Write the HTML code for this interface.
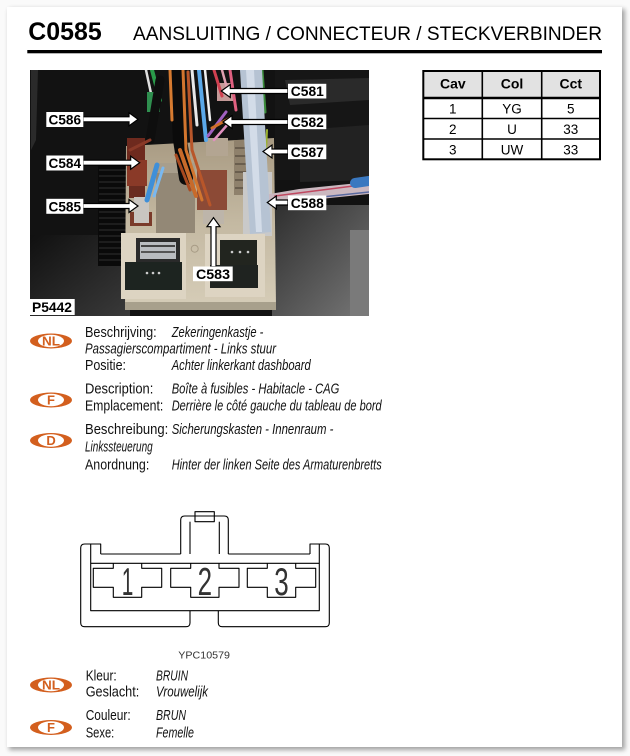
<!DOCTYPE html>
<html>
<head>
<meta charset="utf-8">
<style>
  html,body{margin:0;padding:0;background:#fafafa;}
  body{width:630px;height:756px;position:relative;overflow:hidden;}
  svg{position:absolute;left:0;top:0;}
  text{font-family:"Liberation Sans", Arial, sans-serif;}
</style>
</head>
<body>
<svg width="630" height="756" viewBox="0 0 630 756" xmlns="http://www.w3.org/2000/svg">
  <defs>
    <filter id="sh" x="-5%" y="-5%" width="110%" height="110%"><feGaussianBlur stdDeviation="2.5"/></filter>
    <clipPath id="ph"><rect x="30" y="70" width="339" height="246"/></clipPath>
    <linearGradient id="floor" x1="0" y1="0" x2="1" y2="1">
      <stop offset="0" stop-color="#2e2e2e"/>
      <stop offset="1" stop-color="#767676"/>
    </linearGradient>
    <linearGradient id="ll" x1="0" y1="0" x2="1" y2="1">
      <stop offset="0" stop-color="#101010"/>
      <stop offset="1" stop-color="#3a3a3a"/>
    </linearGradient>
    <linearGradient id="box" x1="0" y1="0" x2="0" y2="1">
      <stop offset="0" stop-color="#a89a82"/>
      <stop offset="0.5" stop-color="#c4b9a2"/>
      <stop offset="1" stop-color="#d6cdb8"/>
    </linearGradient>
  </defs>

  <!-- card -->
  <rect x="9" y="9" width="616" height="741" fill="#000" opacity="0.35" filter="url(#sh)"/>
  <rect x="7" y="7" width="615" height="740" fill="#ffffff"/>

  <!-- header -->
  <text x="28.3" y="40" font-size="25" font-weight="bold" fill="#000" textLength="73.4" lengthAdjust="spacingAndGlyphs">C0585</text>
  <text x="133" y="40" font-size="19.5" fill="#000" textLength="469" lengthAdjust="spacingAndGlyphs">AANSLUITING / CONNECTEUR / STECKVERBINDER</text>
  <rect x="27.3" y="50" width="574.7" height="3.3" fill="#000"/>

  <!-- PHOTO -->
  <g clip-path="url(#ph)">
    <rect x="30" y="70" width="339" height="246" fill="#121212"/>
    <path d="M31 70 L38 70 L36 140 L31 150Z" fill="#2a2a2a"/>
    <rect x="30" y="235" width="100" height="81" fill="url(#ll)"/>
    <rect x="275" y="70" width="94" height="110" fill="#161616"/>
    <path d="M285 80 L369 78 L369 100 L290 105Z" fill="#2a2a2a"/>
    <path d="M300 130 L369 125 L369 180 L300 182Z" fill="#222"/>
    <rect x="272" y="205" width="97" height="111" fill="url(#floor)"/>
    <rect x="350" y="230" width="19" height="86" fill="#7a7a7a"/>
    <!-- ribbed wheel -->
    <rect x="98" y="163" width="30" height="103" fill="#0a0a0a"/>
    <g stroke="#303030" stroke-width="1">
      <line x1="99" y1="170" x2="127" y2="170"/><line x1="99" y1="176" x2="127" y2="176"/>
      <line x1="99" y1="182" x2="127" y2="182"/><line x1="99" y1="188" x2="127" y2="188"/>
      <line x1="99" y1="194" x2="127" y2="194"/><line x1="99" y1="200" x2="127" y2="200"/>
      <line x1="99" y1="206" x2="127" y2="206"/><line x1="99" y1="212" x2="127" y2="212"/>
      <line x1="99" y1="218" x2="127" y2="218"/><line x1="99" y1="224" x2="127" y2="224"/>
      <line x1="99" y1="230" x2="127" y2="230"/><line x1="99" y1="236" x2="127" y2="236"/>
      <line x1="99" y1="242" x2="127" y2="242"/><line x1="99" y1="248" x2="127" y2="248"/>
      <line x1="99" y1="254" x2="127" y2="254"/><line x1="99" y1="260" x2="127" y2="260"/>
    </g>
    <!-- fuse box body -->
    <polygon points="126,146 274,138 276,306 125,309" fill="url(#box)"/>
    <rect x="125" y="302" width="151" height="8" fill="#a8a08c"/>
    <!-- gray block -->
    <rect x="156" y="163" width="39" height="70" fill="#938876"/>
    <rect x="156" y="163" width="39" height="10" fill="#a89e8c"/>
    <!-- left connectors -->
    <rect x="127" y="138" width="18" height="22" fill="#6e2a1e"/>
    <rect x="127" y="160" width="20" height="26" fill="#8a3a28"/>
    <rect x="129" y="186" width="16" height="12" fill="#6a2c20"/>
    <rect x="130" y="212" width="22" height="14" fill="#7a3a2a"/>
    <rect x="134" y="197" width="15" height="26" fill="#c9c5c0"/>
    <!-- right connector column -->
    <rect x="234" y="140" width="16" height="55" fill="#8f816c"/>
    <g stroke="#5e5244" stroke-width="1.5">
      <line x1="235" y1="148" x2="249" y2="148"/><line x1="235" y1="156" x2="249" y2="156"/>
      <line x1="235" y1="164" x2="249" y2="164"/><line x1="235" y1="172" x2="249" y2="172"/>
      <line x1="235" y1="180" x2="249" y2="180"/><line x1="235" y1="188" x2="249" y2="188"/>
    </g>
    <rect x="243" y="172" width="29" height="64" fill="#c9c9c9"/>
    <rect x="206" y="138" width="22" height="18" fill="#b3a592"/>
    <rect x="203" y="207" width="21" height="17" fill="#bdb5aa"/>
    <rect x="197" y="170" width="30" height="40" fill="#8c4a36"/>
    <rect x="217" y="83" width="16" height="18" fill="#c49a98"/>
    <!-- wires -->
    <g fill="none" stroke-linecap="round">
      <path d="M146 70 L152 98" stroke="#e0e0e0" stroke-width="2.5"/>
      <path d="M152 70 L160 100" stroke="#2a9a4a" stroke-width="4"/>
      <rect x="147" y="92" width="13" height="20" fill="#2f8f4f" stroke="none"/>
      <path d="M160 80 L150 140" stroke="#0e0e0e" stroke-width="9"/>
      <path d="M176 70 L180 140 L186 178" stroke="#0b0b0b" stroke-width="14"/>
      <path d="M170 70 L172 120" stroke="#d67a30" stroke-width="3"/>
      <path d="M183 70 L186 150 L202 200" stroke="#d2752e" stroke-width="3"/>
      <path d="M188 72 L192 150 L210 205" stroke="#b8562a" stroke-width="3"/>
      <path d="M180 150 L196 196" stroke="#c86a2a" stroke-width="4"/>
      <path d="M176 155 L190 190" stroke="#a84a20" stroke-width="3"/>
      <path d="M192 70 L197 125" stroke="#e8e8e8" stroke-width="3"/>
      <path d="M199 70 L206 140" stroke="#5aa8e8" stroke-width="4"/>
      <path d="M205 70 L210 120" stroke="#f0f0f0" stroke-width="2.5"/>
      <path d="M157 165 L147 200" stroke="#3f8fd8" stroke-width="5"/>
      <path d="M163 168 L154 196" stroke="#79b8f0" stroke-width="3"/>
      <path d="M130 150 L150 140" stroke="#8a3a28" stroke-width="3"/>
      <path d="M214 70 L222 96" stroke="#d04050" stroke-width="3"/>
      <path d="M222 70 L228 92" stroke="#e0a0b0" stroke-width="2.5"/>
      <path d="M230 70 L236 110" stroke="#e06080" stroke-width="3"/>
      <path d="M226 112 L208 136" stroke="#a060c0" stroke-width="3"/>
      <path d="M230 118 L212 128" stroke="#d0702a" stroke-width="3"/>
      <path d="M228 124 L214 140" stroke="#e090c0" stroke-width="2.5"/>
      <path d="M262 70 L265 112" stroke="#3a8a3a" stroke-width="3"/>
      <path d="M258 100 L250 200" stroke="#88aa44" stroke-width="2"/>
      <path d="M262 120 L257 215" stroke="#d4c828" stroke-width="2"/>
      <path d="M267 130 L263 220" stroke="#9ab030" stroke-width="2"/>
      <path d="M270 200 L300 195 L369 188" stroke="#cbb8c0" stroke-width="12"/>
      <path d="M275 196 L369 184" stroke="#c04860" stroke-width="1.5"/>
      <path d="M275 202 L369 192" stroke="#5a6aa0" stroke-width="1.5"/>
      <path d="M355 183 L369 181" stroke="#3a78c0" stroke-width="10"/>
    </g>
    <polygon points="240,70 262,70 271,232 250,234" fill="#b6c3d3"/>
    <polygon points="246,70 254,70 262,232 256,232" fill="#d3dce8"/>
    <!-- relays -->
    <rect x="121" y="233" width="65" height="66" fill="#ddd4c2"/>
    <rect x="205" y="234" width="60" height="63" fill="#ddd4c2"/>
    <rect x="136" y="238" width="44" height="25" fill="#2a2a2a"/>
    <rect x="140" y="242" width="36" height="17" fill="#b9bcc0"/>
    <rect x="141" y="245" width="34" height="2" fill="#444"/>
    <rect x="141" y="251" width="34" height="2" fill="#555"/>
    <rect x="125" y="262" width="57" height="28" fill="#1d2420"/>
    <circle cx="147" cy="273" r="1.3" fill="#ccc"/><circle cx="153" cy="273" r="1.3" fill="#ccc"/><circle cx="159" cy="273" r="1.3" fill="#ccc"/>
    <rect x="220" y="240" width="37" height="25" fill="#22251f"/>
    <circle cx="232" cy="252" r="1.3" fill="#ccc"/><circle cx="240" cy="252" r="1.3" fill="#ccc"/><circle cx="248" cy="252" r="1.3" fill="#ccc"/>
    <rect x="210" y="265" width="48" height="23" fill="#1f2320"/>
    <circle cx="194.7" cy="248.7" r="3.5" fill="none" stroke="#a89c86" stroke-width="1"/>

    <!-- arrows -->
    <g fill="#fff" stroke="#000" stroke-width="1.2" stroke-linejoin="miter">
      <polygon points="83,116.8 129,116.8 129,112.8 138,119.3 129,125.8 129,121.8 83,121.8"/>
      <polygon points="83,160.2 130.7,160.2 130.7,156.2 139.7,162.7 130.7,169.2 130.7,165.2 83,165.2"/>
      <polygon points="83,203.5 129,203.5 129,199.5 138,206 129,212.5 129,208.5 83,208.5"/>
      <polygon points="288,88.5 230.3,88.5 230.3,84.5 221.3,91 230.3,97.5 230.3,93.5 288,93.5"/>
      <polygon points="288,119.5 232,119.5 232,115.5 223,122 232,128.5 232,124.5 288,124.5"/>
      <polygon points="288,149 272,149 272,145 263,151.5 272,158 272,154 288,154"/>
      <polygon points="288,200 276.3,200 276.3,196 267.3,202.5 276.3,209 276.3,205 288,205"/>
      <polygon points="211,266.7 211,226.7 207,226.7 213.5,217.7 220,226.7 216,226.7 216,266.7"/>
    </g>
    <!-- labels -->
    <g fill="#fff">
      <rect x="46.3" y="112" width="37" height="15"/>
      <rect x="46.3" y="155.5" width="37" height="15"/>
      <rect x="46.3" y="198.8" width="37" height="15"/>
      <rect x="288" y="83.8" width="38.3" height="14.7"/>
      <rect x="288" y="114.5" width="38.3" height="14.7"/>
      <rect x="288" y="144.5" width="38.3" height="14.7"/>
      <rect x="288" y="195.5" width="38.3" height="14.7"/>
      <rect x="193" y="266.5" width="39.7" height="14.7"/>
      <rect x="29.7" y="299" width="45" height="16"/>
    </g>
    <g font-size="14" font-weight="bold" fill="#000">
      <text x="48.5" y="124.5" textLength="32.5" lengthAdjust="spacingAndGlyphs">C586</text>
      <text x="48.5" y="168" textLength="32.5" lengthAdjust="spacingAndGlyphs">C584</text>
      <text x="48.5" y="211.3" textLength="32.5" lengthAdjust="spacingAndGlyphs">C585</text>
      <text x="290.8" y="96.2" textLength="33" lengthAdjust="spacingAndGlyphs">C581</text>
      <text x="290.8" y="126.9" textLength="33" lengthAdjust="spacingAndGlyphs">C582</text>
      <text x="290.8" y="156.9" textLength="33" lengthAdjust="spacingAndGlyphs">C587</text>
      <text x="290.8" y="207.9" textLength="33" lengthAdjust="spacingAndGlyphs">C588</text>
      <text x="196" y="278.9" textLength="34" lengthAdjust="spacingAndGlyphs">C583</text>
      <text x="32" y="312" textLength="40" lengthAdjust="spacingAndGlyphs">P5442</text>
    </g>
  </g>

  <!-- TABLE -->
  <rect x="423.3" y="71" width="176.7" height="27" fill="#e2e2e2"/>
  <g stroke="#000" fill="none">
    <rect x="423.3" y="71" width="176.7" height="88.3" stroke-width="2"/>
    <line x1="423.3" y1="98" x2="600" y2="98" stroke-width="2.6"/>
    <line x1="423.3" y1="118.5" x2="600" y2="118.5" stroke-width="1.6"/>
    <line x1="423.3" y1="139" x2="600" y2="139" stroke-width="1.6"/>
    <line x1="482.3" y1="71" x2="482.3" y2="159.3" stroke-width="1.6"/>
    <line x1="541.7" y1="71" x2="541.7" y2="159.3" stroke-width="1.6"/>
  </g>
  <g font-size="14" font-weight="bold" text-anchor="middle" fill="#000">
    <text x="452.8" y="88.5">Cav</text>
    <text x="512" y="88.5">Col</text>
    <text x="570.8" y="88.5">Cct</text>
  </g>
  <g font-size="13.5" text-anchor="middle" fill="#000">
    <text x="452.8" y="113.5">1</text><text x="512" y="113.5">YG</text><text x="570.8" y="113.5">5</text>
    <text x="452.8" y="134">2</text><text x="512" y="134">U</text><text x="570.8" y="134">33</text>
    <text x="452.8" y="154.5">3</text><text x="512" y="154.5">UW</text><text x="570.8" y="154.5">33</text>
  </g>

  <!-- BADGES -->
  <g font-weight="bold" font-size="13" text-anchor="middle">
    <g transform="translate(51,341)">
      <ellipse rx="21" ry="7.5" fill="#d35f1e"/><ellipse rx="13" ry="6.2" fill="#fff"/>
      <text y="4.6" fill="#d35f1e" textLength="18" lengthAdjust="spacingAndGlyphs">NL</text>
    </g>
    <g transform="translate(51,400)">
      <ellipse rx="21" ry="7.5" fill="#d35f1e"/><ellipse rx="13" ry="6.2" fill="#fff"/>
      <text y="4.6" fill="#d35f1e">F</text>
    </g>
    <g transform="translate(51,440.5)">
      <ellipse rx="21" ry="7.5" fill="#d35f1e"/><ellipse rx="13" ry="6.2" fill="#fff"/>
      <text y="4.6" fill="#d35f1e">D</text>
    </g>
    <g transform="translate(51,685)">
      <ellipse rx="21" ry="7.5" fill="#d35f1e"/><ellipse rx="13" ry="6.2" fill="#fff"/>
      <text y="4.6" fill="#d35f1e" textLength="18" lengthAdjust="spacingAndGlyphs">NL</text>
    </g>
    <g transform="translate(51,727.5)">
      <ellipse rx="21" ry="7.5" fill="#d35f1e"/><ellipse rx="13" ry="6.2" fill="#fff"/>
      <text y="4.6" fill="#d35f1e">F</text>
    </g>
  </g>

  <!-- DESCRIPTION TEXT -->
  <g font-size="15" fill="#111">
    <text x="85" y="337" textLength="71.7" lengthAdjust="spacingAndGlyphs">Beschrijving:</text>
    <text x="171.7" y="337" font-style="italic" textLength="91.7" lengthAdjust="spacingAndGlyphs">Zekeringenkastje -</text>
    <text x="85" y="353.5" font-style="italic" textLength="191" lengthAdjust="spacingAndGlyphs">Passagierscompartiment - Links stuur</text>
    <text x="85" y="370" textLength="41" lengthAdjust="spacingAndGlyphs">Positie:</text>
    <text x="171.7" y="370" font-style="italic" textLength="139" lengthAdjust="spacingAndGlyphs">Achter linkerkant dashboard</text>

    <text x="85" y="393.3" textLength="68.3" lengthAdjust="spacingAndGlyphs">Description:</text>
    <text x="171.7" y="393.3" font-style="italic" textLength="167.7" lengthAdjust="spacingAndGlyphs">Boîte à fusibles - Habitacle - CAG</text>
    <text x="85" y="410.5" textLength="78.3" lengthAdjust="spacingAndGlyphs">Emplacement:</text>
    <text x="171.7" y="410.5" font-style="italic" textLength="210" lengthAdjust="spacingAndGlyphs">Derrière le côté gauche du tableau de bord</text>

    <text x="85" y="434" textLength="83.3" lengthAdjust="spacingAndGlyphs">Beschreibung:</text>
    <text x="171.7" y="434" font-style="italic" textLength="161.7" lengthAdjust="spacingAndGlyphs">Sicherungskasten - Innenraum -</text>
    <text x="85" y="451.7" font-style="italic" textLength="67.7" lengthAdjust="spacingAndGlyphs">Linkssteuerung</text>
    <text x="85" y="469.3" textLength="64.3" lengthAdjust="spacingAndGlyphs">Anordnung:</text>
    <text x="171.7" y="469.3" font-style="italic" textLength="210" lengthAdjust="spacingAndGlyphs">Hinter der linken Seite des Armaturenbretts</text>

    <text x="85.7" y="680.7" textLength="31" lengthAdjust="spacingAndGlyphs">Kleur:</text>
    <text x="156" y="680.7" font-style="italic" textLength="32" lengthAdjust="spacingAndGlyphs">BRUIN</text>
    <text x="85.7" y="696.7" textLength="53.6" lengthAdjust="spacingAndGlyphs">Geslacht:</text>
    <text x="156" y="696.7" font-style="italic" textLength="52" lengthAdjust="spacingAndGlyphs">Vrouwelijk</text>
    <text x="85.7" y="720" textLength="45" lengthAdjust="spacingAndGlyphs">Couleur:</text>
    <text x="156" y="720" font-style="italic" textLength="30" lengthAdjust="spacingAndGlyphs">BRUN</text>
    <text x="85.7" y="737.7" textLength="28.6" lengthAdjust="spacingAndGlyphs">Sexe:</text>
    <text x="156" y="737.7" font-style="italic" textLength="38" lengthAdjust="spacingAndGlyphs">Femelle</text>
  </g>

  <!-- CONNECTOR DRAWING -->
  <g fill="none" stroke="#000" stroke-width="1.1" stroke-linejoin="round">
    <path d="M100.7 554 L100.7 544 L84.7 544 Q80.7 544 80.7 548 L80.7 622.7 Q80.7 626.7 84.7 626.7 L186 626.7 Q190 626.7 190 622.7 L190 610.7"/>
    <path d="M218.3 610.7 L218.3 622.7 Q218.3 626.7 222.3 626.7 L325.3 626.7 Q329.3 626.7 329.3 622.7 L329.3 548 Q329.3 544 325.3 544 L310 544 L310 554"/>
    <path d="M100.7 554 L180.7 554"/>
    <path d="M228.3 554 L310 554"/>
    <path d="M180.7 554 L180.7 520 Q180.7 516 184.7 516 L224.3 516 Q228.3 516 228.3 520 L228.3 554"/>
    <path d="M190 554 L190 521.7"/>
    <path d="M219.3 554 L219.3 521.7"/>
    <rect x="195" y="511.7" width="19.3" height="10"/>
    <path d="M90.7 544 L90.7 610.7 L319.3 610.7 L319.3 544"/>
    <path d="M90.7 563.3 L319.3 563.3"/>
    <path d="M113.3 563.3 L113.3 568.3 L93.3 568.3 L93.3 587.3 L113.3 587.3 L113.3 597.3 L141.7 597.3 L141.7 587.3 L161.7 587.3 L161.7 568.3 L141.7 568.3 L141.7 563.3"/>
    <path d="M190.7 563.3 L190.7 568.3 L170.7 568.3 L170.7 587.3 L190.7 587.3 L190.7 597.3 L219 597.3 L219 587.3 L239 587.3 L239 568.3 L219 568.3 L219 563.3"/>
    <path d="M267.3 563.3 L267.3 568.3 L247.3 568.3 L247.3 587.3 L267.3 587.3 L267.3 597.3 L295.7 597.3 L295.7 587.3 L315.7 587.3 L315.7 568.3 L295.7 568.3 L295.7 563.3"/>
  </g>
  <g font-size="26" fill="#333" text-anchor="middle">
    <text transform="translate(127.5,595) scale(0.8,1.5)">1</text>
    <text transform="translate(204.8,595) scale(1,1.5)">2</text>
    <text transform="translate(281.5,595) scale(1,1.5)">3</text>
  </g>
  <text x="178.3" y="658.3" font-size="10.5" fill="#333" textLength="51.7" lengthAdjust="spacingAndGlyphs">YPC10579</text>
</svg>
</body>
</html>
